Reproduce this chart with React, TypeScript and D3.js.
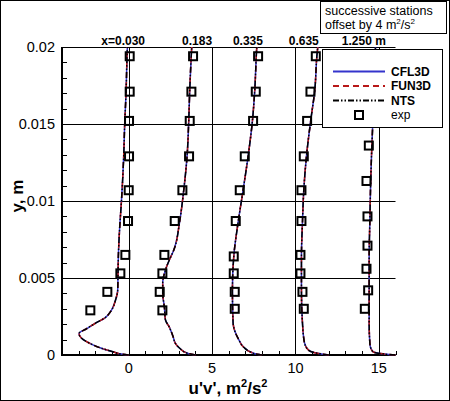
import React, { useEffect, useRef } from 'react';
import * as d3 from 'd3';

// station offsets (m^2/s^2) and their labels
const stationOffsets = [0, 4, 8, 12, 16];
const stationLabels = ['x=0.030', '0.183', '0.335', '0.635', '1.250 m'];
const stationLabelX = [-0.33, 4.1, 7.15, 10.5, 14.1];

// CFD profiles [y, u'v'] (without offset); CFL3D, FUN3D and NTS overlay
const cfd1: [number, number][] = [
    [0.02, -0.08], [0.0194, -0.1], [0.017, -0.16], [0.015, -0.24], [0.0129, -0.3],
    [0.0099, -0.44], [0.0083, -0.54], [0.0064, -0.62], [0.0053, -0.64], [0.0042, -0.66],
    [0.0036, -0.78], [0.0029, -1.04], [0.0024, -1.44], [0.0021, -1.94], [0.0017, -2.54],
    [0.0014, -2.98], [0.0011, -2.84], [0.00076, -2.34], [0.00044, -1.64], [0.00021, -0.94],
    [0.00006, -0.44], [0, 0],
];
const cfd2: [number, number][] = [
    [0.02, -0.22], [0.0196, -0.24], [0.0172, -0.34], [0.0152, -0.4], [0.0129, -0.5],
    [0.0107, -0.7], [0.0087, -0.94], [0.0068, -1.3], [0.0062, -1.55], [0.0055, -1.8],
    [0.0047, -1.96], [0.004, -1.96], [0.0031, -1.86], [0.0023, -1.8], [0.0018, -1.56],
    [0.0012, -1.34], [0.00076, -1.2], [0.00044, -0.94], [0.0001, -0.44], [0, 0],
];
const cfd3: [number, number][] = [
    [0.02, -0.32], [0.0196, -0.34], [0.0172, -0.44], [0.0152, -0.58], [0.0129, -0.84],
    [0.0107, -1.14], [0.0086, -1.44], [0.0064, -1.7], [0.0042, -1.78], [0.0021, -1.74],
    [0.001, -1.4], [0.0005, -1.1], [0.0002, -0.7], [0.00005, -0.3], [0, 0],
];
const cfd4: [number, number][] = [
    [0.02, -0.66], [0.0196, -0.7], [0.0172, -0.84], [0.0151, -1.1], [0.0129, -1.34],
    [0.0107, -1.5], [0.0086, -1.58], [0.0064, -1.64], [0.0042, -1.64], [0.0021, -1.58],
    [0.0008, -1.46], [0.0003, -1.2], [0.0001, -0.6], [0, 0],
];
const cfd5: [number, number][] = [
    [0.02, -1.2], [0.0175, -1.3], [0.0146, -1.38], [0.0129, -1.44], [0.0107, -1.5],
    [0.0086, -1.54], [0.0064, -1.58], [0.0042, -1.58], [0.0021, -1.58], [0.0008, -1.54],
    [0.0005, -1.5], [0.0002, -1.34], [0.0001, -0.94], [0.00003, -0.4], [0, 0],
];

// experiment [y, u'v'] (without offset)
const exp1: [number, number][] = [
    [0.0194, 0.06], [0.0171, 0.06], [0.0152, 0.02], [0.0129, 0.02], [0.0107, 0],
    [0.0087, -0.04], [0.0065, -0.2], [0.0053, -0.5], [0.0041, -1.28], [0.0029, -2.3],
];
const exp2: [number, number][] = [
    [0.0194, -0.14], [0.0171, -0.24], [0.0152, -0.34], [0.0129, -0.38], [0.0107, -0.78],
    [0.0087, -1.24], [0.0065, -1.86], [0.0053, -1.98], [0.0041, -2.14], [0.0029, -1.98],
];
const exp3: [number, number][] = [
    [0.0194, -0.24], [0.0171, -0.38], [0.0152, -0.54], [0.0129, -1.04], [0.0107, -1.34],
    [0.0087, -1.58], [0.0064, -1.7], [0.0053, -1.7], [0.0041, -1.64], [0.003, -1.64],
];
const exp4: [number, number][] = [
    [0.0194, -0.78], [0.0171, -1.1], [0.0152, -1.3], [0.0129, -1.5], [0.0107, -1.64],
    [0.0087, -1.64], [0.0065, -1.7], [0.0053, -1.7], [0.0041, -1.58], [0.003, -1.5],
];
const exp5: [number, number][] = [
    [0.0136, -1.6], [0.0113, -1.74], [0.009, -1.68], [0.0071, -1.68], [0.0056, -1.74],
    [0.0042, -1.64], [0.003, -1.84],
];

const cfdProfiles = [cfd1, cfd2, cfd3, cfd4, cfd5];
const expProfiles = [exp1, exp2, exp3, exp4, exp5];

const xTicks = [0, 5, 10, 15];
const yTicks = [0, 0.005, 0.01, 0.015, 0.02];
const yTickLabels = ['0', '0.005', '0.01', '0.015', '0.02'];

const series = [
    { name: 'CFL3D', color: '#3434cc', dash: null as string | null, weight: 'bold' },
    { name: 'FUN3D', color: '#b81818', dash: '6,4', weight: 'bold' },
    { name: 'NTS', color: '#000000', dash: '6,2,1.5,2,1.5,2', weight: 'bold' },
];

const FONT = '"Liberation Sans", Arial, Helvetica, sans-serif';

const App: React.FC = () => {
    const svgRef = useRef<SVGSVGElement | null>(null);

    useEffect(() => {
        const width = 450;
        const height = 401;
        const svg = d3.select(svgRef.current);
        svg.selectAll('*').remove();
        svg.style('font-family', FONT);

        const x = d3.scaleLinear().domain([-4, 16]).range([62, 395.5]);
        const y = d3.scaleLinear().domain([0, 0.02]).range([355, 47]);

        svg.append('rect').attr('width', width).attr('height', height).attr('fill', '#fff');

        // grid
        const grid = svg.append('g').attr('stroke', '#000').attr('stroke-width', 1);
        xTicks.forEach((t) => {
            grid.append('line')
                .attr('x1', Math.round(x(t)) + 0.5).attr('x2', Math.round(x(t)) + 0.5)
                .attr('y1', y(0.02)).attr('y2', y(0));
        });
        yTicks.slice(1).forEach((t) => {
            grid.append('line')
                .attr('x1', x(-4)).attr('x2', x(16))
                .attr('y1', Math.round(y(t)) + 0.5).attr('y2', Math.round(y(t)) + 0.5);
        });

        // minor ticks (inward)
        const ticks = svg.append('g').attr('stroke', '#000').attr('stroke-width', 1);
        d3.range(0, 21).forEach((i) => {
            const v = i * 0.001;
            ticks.append('line')
                .attr('x1', x(-4)).attr('x2', x(-4) + 5)
                .attr('y1', Math.round(y(v)) + 0.5).attr('y2', Math.round(y(v)) + 0.5);
        });
        d3.range(-4, 17).forEach((v) => {
            ticks.append('line')
                .attr('x1', Math.round(x(v)) + 0.5).attr('x2', Math.round(x(v)) + 0.5)
                .attr('y1', y(0)).attr('y2', y(0) - 4);
        });

        // axis lines
        svg.append('line').attr('x1', x(-4)).attr('x2', x(-4)).attr('y1', y(0.02)).attr('y2', y(0) + 1)
            .attr('stroke', '#000').attr('stroke-width', 2);
        svg.append('line').attr('x1', x(-4) - 1).attr('x2', x(16)).attr('y1', y(0)).attr('y2', y(0))
            .attr('stroke', '#000').attr('stroke-width', 2);

        // tick labels
        svg.append('g').selectAll('text').data(yTicks).join('text')
            .attr('x', x(-4) - 7).attr('y', (d) => y(d))
            .attr('dy', '0.36em').attr('text-anchor', 'end')
            .attr('font-size', 14.5).attr('fill', '#000')
            .text((d, i) => yTickLabels[i]);
        svg.append('g').selectAll('text').data(xTicks).join('text')
            .attr('x', (d) => x(d)).attr('y', 373)
            .attr('text-anchor', 'middle').attr('font-size', 14.5).attr('fill', '#000')
            .text((d) => String(d));

        // axis titles
        const xt = svg.append('text').attr('x', 228).attr('y', 394).attr('text-anchor', 'middle')
            .attr('font-size', 17).attr('font-weight', 'bold');
        xt.append('tspan').text("u'v', m");
        xt.append('tspan').attr('font-size', 11).attr('dy', -7).text('2');
        xt.append('tspan').attr('dy', 7).text('/s');
        xt.append('tspan').attr('font-size', 11).attr('dy', -7).text('2');
        svg.append('text').attr('transform', 'translate(23,196) rotate(-90)').attr('text-anchor', 'middle')
            .attr('font-size', 17).attr('font-weight', 'bold').text('y, m');

        // station labels
        svg.append('g').selectAll('text').data(stationLabels).join('text')
            .attr('x', (d, i) => x(stationLabelX[i])).attr('y', 45)
            .attr('text-anchor', 'middle').attr('font-size', 12).attr('font-weight', 'bold')
            .attr('fill', '#000')
            .text((d) => d);

        // profiles
        const plot = svg.append('g');
        cfdProfiles.forEach((prof, i) => {
            const off = stationOffsets[i];
            const pts = [...prof].sort((a, b) => a[0] - b[0]);
            const line = d3.line<[number, number]>()
                .x((d) => x(d[1] + off))
                .y((d) => y(d[0]))
                .curve(d3.curveMonotoneY);
            series.forEach((s) => {
                plot.append('path').attr('d', line(pts))
                    .attr('fill', 'none').attr('stroke', s.color).attr('stroke-width', 1.5)
                    .attr('stroke-dasharray', s.dash);
            });
        });
        expProfiles.forEach((prof, i) => {
            const off = stationOffsets[i];
            plot.append('g').selectAll('rect').data(prof).join('rect')
                .attr('x', (d) => x(d[1] + off) - 4).attr('y', (d) => y(d[0]) - 4)
                .attr('width', 8).attr('height', 8)
                .attr('fill', 'none').attr('stroke', '#000').attr('stroke-width', 2);
        });

        // legend
        const lg = svg.append('g');
        lg.append('rect').attr('x', 322.5).attr('y', 49.5).attr('width', 120).attr('height', 78)
            .attr('fill', '#fff').attr('stroke', '#000');
        series.forEach((s, i) => {
            const ly = 71.5 + i * 14.5;
            lg.append('line').attr('x1', 333).attr('x2', 385).attr('y1', ly).attr('y2', ly)
                .attr('stroke', s.color).attr('stroke-width', 2).attr('stroke-dasharray', s.dash);
            lg.append('text').attr('x', 391).attr('y', ly).attr('dy', '0.36em')
                .attr('font-size', 12).attr('font-weight', s.weight).text(s.name);
        });
        lg.append('rect').attr('x', 355).attr('y', 111).attr('width', 8).attr('height', 8)
            .attr('fill', 'none').attr('stroke', '#000').attr('stroke-width', 2);
        lg.append('text').attr('x', 391).attr('y', 115).attr('dy', '0.36em')
            .attr('font-size', 12).text('exp');

        // note box
        const nb = svg.append('g');
        nb.append('rect').attr('x', 320.5).attr('y', 1.5).attr('width', 126).attr('height', 32)
            .attr('fill', '#fff').attr('stroke', '#000');
        nb.append('text').attr('x', 325).attr('y', 15).attr('font-size', 12.5).text('successive stations');
        const t2 = nb.append('text').attr('x', 325).attr('y', 29).attr('font-size', 12.5);
        t2.append('tspan').text('offset by 4 m');
        t2.append('tspan').attr('font-size', 8).attr('dy', -5).text('2');
        t2.append('tspan').attr('dy', 5).text('/s');
        t2.append('tspan').attr('font-size', 8).attr('dy', -5).text('2');

        // outer frame
        svg.append('rect').attr('x', 0.5).attr('y', 0.5).attr('width', width - 1).attr('height', height - 1)
            .attr('fill', 'none').attr('stroke', '#000');
    }, []);

    return (
        <svg
            ref={svgRef}
            width={450}
            height={401}
            style={{ position: 'absolute', left: 0, top: 0, display: 'block' }}
        />
    );
};

export default App;
